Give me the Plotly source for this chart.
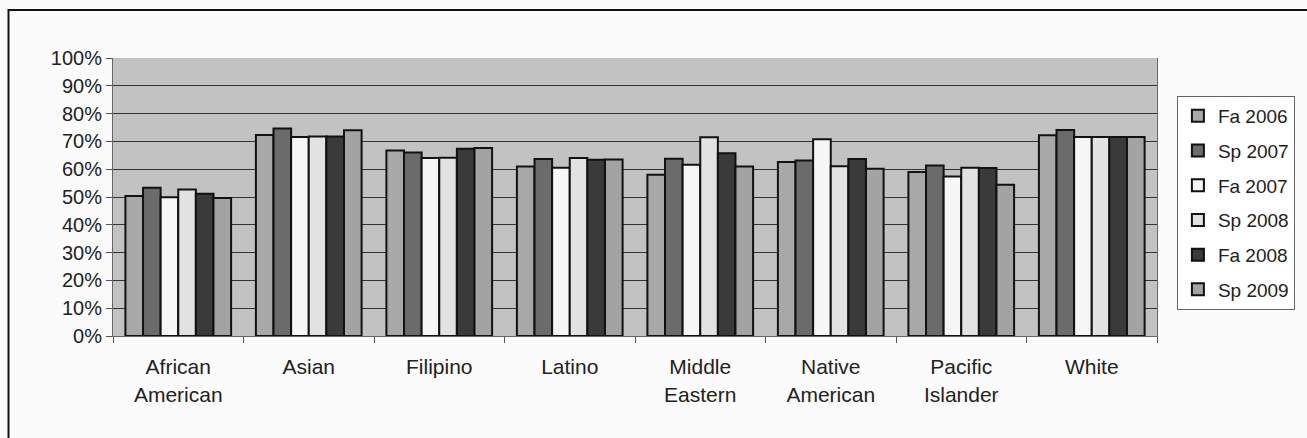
import plotly.graph_objects as go

categories = ["African<br>American", "Asian", "Filipino", "Latino", "Middle<br>Eastern",
              "Native<br>American", "Pacific<br>Islander", "White"]
series_names = ["Fa 2006", "Sp 2007", "Fa 2007", "Sp 2008", "Fa 2008", "Sp 2009"]

fa_2006 = [50.4, 72.3, 66.7, 61.0, 58.0, 62.6, 59.0, 72.2]
sp_2007 = [53.3, 74.6, 66.0, 63.7, 63.8, 63.1, 61.3, 74.1]
fa_2007 = [49.9, 71.6, 64.0, 60.5, 61.6, 70.8, 57.4, 71.6]
sp_2008 = [52.7, 71.8, 64.1, 64.0, 71.5, 61.1, 60.5, 71.6]
fa_2008 = [51.2, 71.8, 67.4, 63.4, 65.7, 63.7, 60.4, 71.6]
sp_2009 = [49.6, 74.0, 67.6, 63.5, 61.0, 60.2, 54.4, 71.6]

series_values = [fa_2006, sp_2007, fa_2007, sp_2008, fa_2008, sp_2009]
series_colors = ["#a8a8a8", "#6b6b6b", "#f6f6f6", "#e2e2e2", "#3a3a3a", "#a3a3a3"]

y_ticks = list(range(0, 101, 10))
y_tick_labels = [f"{v}%" for v in y_ticks]

FONT = "Arial, 'Liberation Sans', sans-serif"

fig = go.Figure()
for i, (name, vals, col) in enumerate(zip(series_names, series_values, series_colors)):
    fig.add_trace(go.Bar(
        x=categories, y=vals, name=name, legendgroup=name,
        marker=dict(color=col, line=dict(color="#111111", width=2)),
    ))

W, H = 1307, 438
ml, mr, mt, mb = 113, 145, 58, 102
pw, ph = W - ml - mr, H - mt - mb

def px_x(x):
    return (x - ml) / pw

def px_y(y):
    return (H - mb - y) / ph

fig.update_layout(
    width=W, height=H,
    margin=dict(l=ml, r=mr, t=mt, b=mb, pad=0),
    paper_bgcolor="#fbfbfb",
    plot_bgcolor="#c2c2c2",
    barmode="group", bargap=0.19, bargroupgap=0,
    font=dict(family=FONT, size=20, color="#222222"),
    showlegend=True,
    legend=dict(
        x=px_x(1182), y=px_y(96), xanchor="left", yanchor="top",
        bgcolor="#ffffff", bordercolor="#666666", borderwidth=1,
        font=dict(family=FONT, size=19, color="#222222"),
        traceorder="grouped", tracegroupgap=7, itemwidth=30,
    ),
    shapes=[dict(type="rect", xref="paper", yref="paper",
                 x0=px_x(8), x1=px_x(1400), y0=px_y(10), y1=px_y(520),
                 line=dict(color="#111111", width=2), layer="below")],
)
fig.update_xaxes(
    tickson="boundaries", ticks="outside", ticklen=6, tickcolor="#555555",
    showline=True, linecolor="#666666", linewidth=1, mirror=False,
    tickfont=dict(family=FONT, size=21, color="#222222"),
    ticklabelstandoff=12,
)
fig.update_yaxes(
    range=[0, 100], tickvals=y_ticks, ticktext=y_tick_labels,
    ticks="outside", ticklen=6, tickcolor="#555555",
    showline=True, linecolor="#666666", linewidth=1, mirror=True,
    showgrid=True, gridcolor="#333333", gridwidth=1,
    tickfont=dict(family=FONT, size=20, color="#222222"),
    zeroline=False,
)

fig.write_html("out.html")
